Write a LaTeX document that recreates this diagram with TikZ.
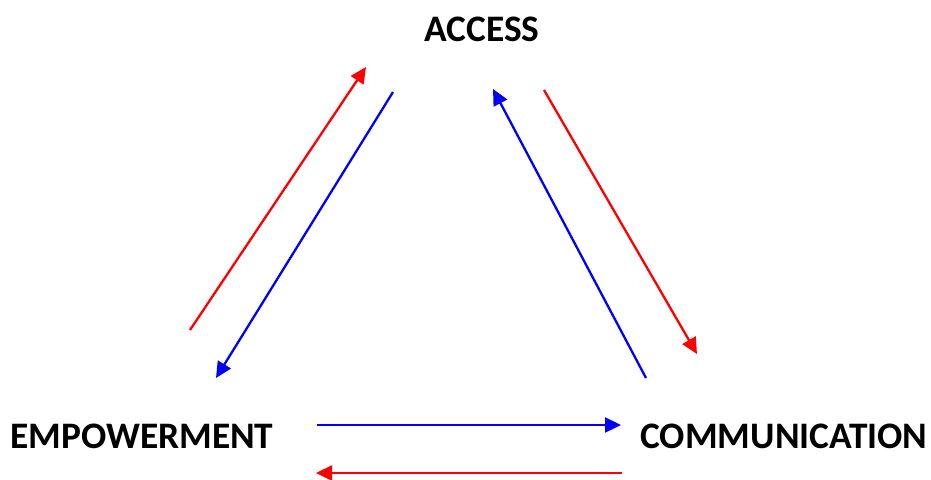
\documentclass[tikz,border=0pt]{standalone}
\usepackage{fontspec}
\setmainfont{Carlito}
\usetikzlibrary{arrows.meta}
\begin{document}
\begin{tikzpicture}[x=1pt,y=-1pt,
  lbl/.style={font=\bfseries\fontsize{37.4}{42}\selectfont, inner sep=0pt, anchor=base},
  redarr/.style={draw={rgb,255:red,255;green,0;blue,0}, line width=2.3pt, -{Triangle[length=16pt,width=15pt]}},
  bluearr/.style={draw={rgb,255:red,0;green,0;blue,255}, line width=2.3pt, -{Triangle[length=16pt,width=15pt]}}]
\useasboundingbox (0,0) rectangle (931,479);
\node[lbl] (access) at (482,41) {ACCESS};
\node[lbl] (empower) at (142,448) {EMPOWERMENT};
\node[lbl] (comm) at (784,448) {COMMUNICATION};
% arrow end points
\coordinate (r1s) at (190,330); \coordinate (r1e) at (366,67);
\coordinate (b1s) at (393,92);  \coordinate (b1e) at (216,378);
\coordinate (b2s) at (646,378); \coordinate (b2e) at (493,89);
\coordinate (r2s) at (544,90);  \coordinate (r2e) at (697,354);
\coordinate (b3s) at (317,425); \coordinate (b3e) at (621,425);
\coordinate (r3s) at (622,473); \coordinate (r3e) at (316,473);
\draw[redarr] (r1s) -- (r1e);
\draw[bluearr] (b1s) -- (b1e);
\draw[bluearr] (b2s) -- (b2e);
\draw[redarr] (r2s) -- (r2e);
\draw[bluearr] (b3s) -- (b3e);
\draw[redarr] (r3s) -- (r3e);
\end{tikzpicture}
\end{document}
